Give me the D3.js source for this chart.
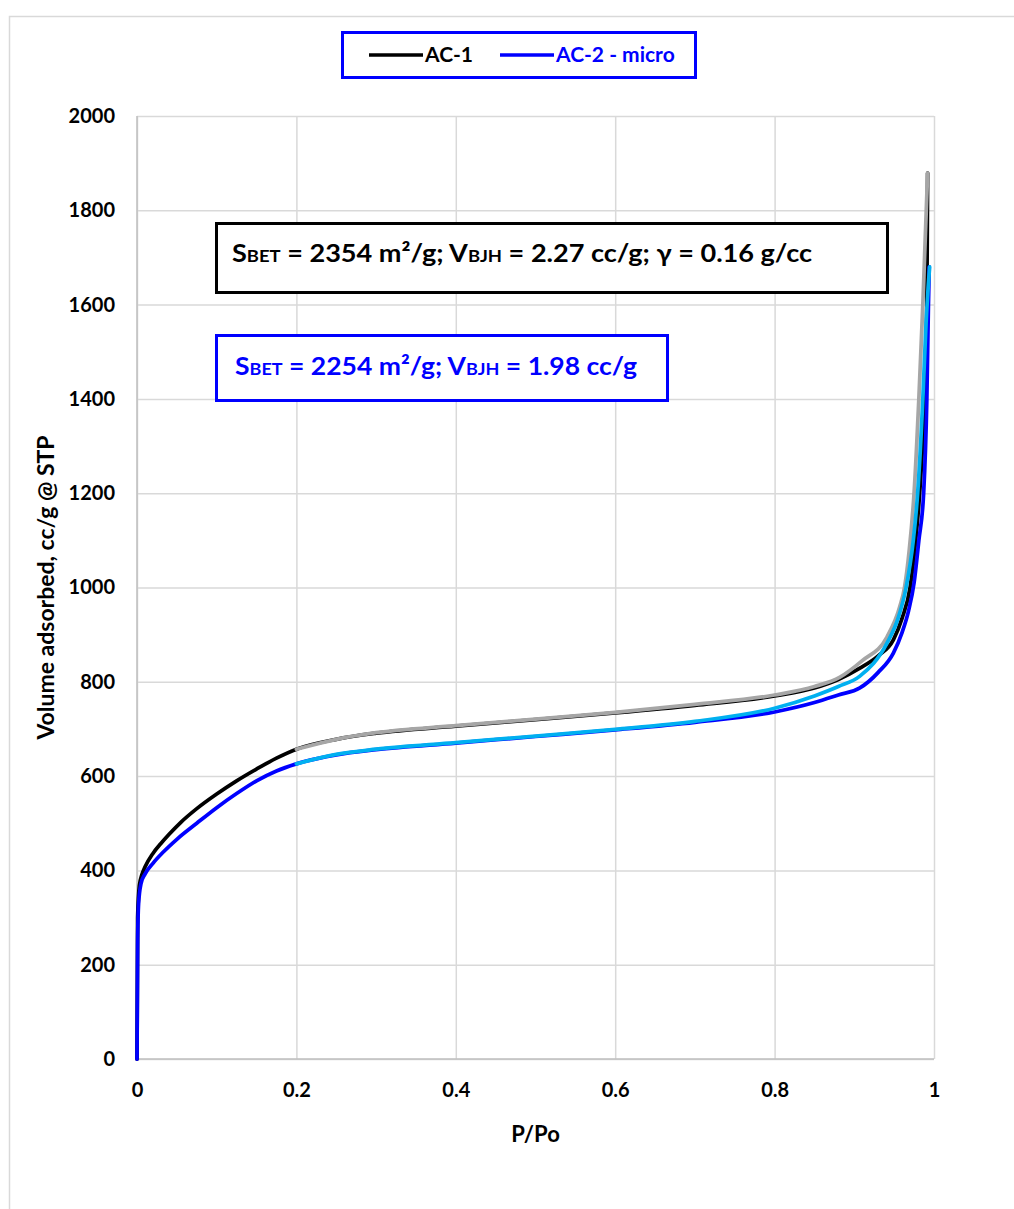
<!DOCTYPE html>
<html lang="en">
<head>
    <meta charset="UTF-8">
    <title>Isotherms AC-1 / AC-2</title>
    <script src="https://d3js.org/d3.v7.min.js"></script>
    <style>
        body { margin: 0; background: #fff; }
        svg text { font-family: Lato, "Open Sans", sans-serif; font-weight: bold; }
    </style>
</head>
<body>
    <script>
        // AC-1 adsorption (black) and desorption (gray)
        const ac1AdsP = [0, 0.0008, 0.003, 0.006, 0.01, 0.02, 0.03, 0.04, 0.055, 0.075, 0.1, 0.125, 0.15, 0.175, 0.2, 0.25, 0.3, 0.4, 0.5, 0.6, 0.7, 0.8, 0.85, 0.88, 0.907, 0.93, 0.949, 0.96, 0.97, 0.977, 0.982, 0.988, 0.991, 0.992];
        const ac1AdsV = [0, 300, 368, 390, 407, 436, 457, 476, 502, 531, 562, 590, 615, 638, 657, 678, 691, 706, 720, 734, 750, 770, 787, 805, 829, 855, 889, 935, 1000, 1100, 1200, 1400, 1600, 1879];
        const ac1DesP = [0.2, 0.25, 0.3, 0.4, 0.5, 0.6, 0.7, 0.8, 0.85, 0.882, 0.91, 0.941, 0.957, 0.963, 0.969, 0.975, 0.981, 0.986, 0.992];
        const ac1DesV = [657, 678, 692, 707, 721, 735, 752, 772, 790, 810, 845, 895, 959, 1000, 1080, 1200, 1400, 1600, 1879];

        // AC-2 adsorption (blue) and desorption (light blue)
        const ac2AdsP = [0, 0.0008, 0.002, 0.005, 0.01, 0.02, 0.033, 0.05, 0.075, 0.1, 0.125, 0.15, 0.175, 0.2, 0.25, 0.3, 0.4, 0.5, 0.6, 0.7, 0.8, 0.85, 0.88, 0.907, 0.93, 0.949, 0.96, 0.968, 0.975, 0.981, 0.987, 0.991, 0.993, 0.994];
        const ac2AdsV = [0, 250, 330, 372, 392, 415, 439, 466, 500, 533, 563, 590, 611, 626, 645, 656, 670, 684, 698, 714, 736, 756, 772, 787, 820, 861, 905, 950, 1010, 1100, 1200, 1400, 1600, 1680];
        const ac2DesP = [0.2, 0.25, 0.3, 0.4, 0.5, 0.6, 0.7, 0.8, 0.85, 0.88, 0.907, 0.941, 0.955, 0.965, 0.974, 0.9795, 0.986, 0.99, 0.9945];
        const ac2DesV = [626, 646, 657, 671, 685, 699, 716, 744, 770, 790, 812, 882, 935, 1000, 1100, 1200, 1400, 1560, 1680];

        const xTicks = [0, 0.2, 0.4, 0.6, 0.8, 1];
        const yTicks = [0, 200, 400, 600, 800, 1000, 1200, 1400, 1600, 1800, 2000];

        const width = 1014, height = 1209;
        const mLeft = 137, mRight = 934, mTop = 116, mBottom = 1059;

        const svg = d3.select("body").append("svg")
            .attr("width", width)
            .attr("height", height);

        // chart area frame
        svg.append("rect")
            .attr("x", 9.5).attr("y", 16.5)
            .attr("width", width + 20).attr("height", height + 20)
            .attr("fill", "#fff")
            .attr("stroke", "#d9d9d9")
            .attr("stroke-width", 1.5);

        const x = d3.scaleLinear().domain([0, 1]).range([mLeft, mRight]);
        const y = d3.scaleLinear().domain([0, 2000]).range([mBottom, mTop]);

        // gridlines
        svg.append("g")
            .attr("transform", `translate(0,${mBottom})`)
            .call(d3.axisBottom(x).tickValues(xTicks).tickSize(-(mBottom - mTop)).tickFormat(""))
            .call(g => g.select(".domain").remove())
            .call(g => g.selectAll("line").attr("stroke", "#d9d9d9").attr("stroke-width", 1.5));
        svg.append("g")
            .attr("transform", `translate(${mLeft},0)`)
            .call(d3.axisLeft(y).tickValues(yTicks).tickSize(-(mRight - mLeft)).tickFormat(""))
            .call(g => g.select(".domain").remove())
            .call(g => g.selectAll("line").attr("stroke", "#d9d9d9").attr("stroke-width", 1.5));

        // axis lines
        svg.append("line")
            .attr("x1", mLeft).attr("x2", mLeft).attr("y1", mTop).attr("y2", mBottom)
            .attr("stroke", "#bfbfbf").attr("stroke-width", 1.5);
        svg.append("line")
            .attr("x1", mLeft).attr("x2", mRight).attr("y1", mBottom).attr("y2", mBottom)
            .attr("stroke", "#bfbfbf").attr("stroke-width", 1.5);

        // tick labels
        svg.append("g")
            .attr("transform", `translate(0,${mBottom})`)
            .call(d3.axisBottom(x).tickValues(xTicks).tickSize(0).tickPadding(24).tickFormat(d3.format("")))
            .call(g => g.select(".domain").remove())
            .call(g => g.selectAll("text").attr("font-size", 20).attr("fill", "#000")
                .style("font-family", "Lato, sans-serif").style("font-weight", "bold"));
        svg.append("g")
            .attr("transform", `translate(${mLeft},0)`)
            .call(d3.axisLeft(y).tickValues(yTicks).tickSize(0).tickPadding(22).tickFormat(d3.format("")))
            .call(g => g.select(".domain").remove())
            .call(g => g.selectAll("text").attr("font-size", 20).attr("fill", "#000")
                .style("font-family", "Lato, sans-serif").style("font-weight", "bold"));

        // axis titles
        svg.append("text")
            .attr("x", (mLeft + mRight) / 2).attr("y", 1142)
            .attr("text-anchor", "middle")
            .attr("font-size", 22)
            .text("P/Po");
        svg.append("text")
            .attr("transform", `translate(54,${(mTop + mBottom) / 2}) rotate(-90)`)
            .attr("text-anchor", "middle")
            .attr("font-size", 23)
            .text("Volume adsorbed, cc/g @ STP");

        // isotherm curves
        const line = d3.line()
            .x(d => x(d[0]))
            .y(d => y(d[1]))
            .curve(d3.curveMonotoneX);

        const series = [
            { p: ac1AdsP, v: ac1AdsV, color: "#000000" },
            { p: ac1DesP, v: ac1DesV, color: "#a6a6a6" },
            { p: ac2AdsP, v: ac2AdsV, color: "#0000ff" },
            { p: ac2DesP, v: ac2DesV, color: "#00b0f0" }
        ];

        svg.append("g")
            .selectAll("path")
            .data(series)
            .join("path")
            .attr("fill", "none")
            .attr("stroke", d => d.color)
            .attr("stroke-width", 3.75)
            .attr("stroke-linejoin", "round")
            .attr("stroke-linecap", "round")
            .attr("d", d => line(d.p.map((p, i) => [p, d.v[i]])));

        // legend
        svg.append("rect")
            .attr("x", 342.5).attr("y", 32.5)
            .attr("width", 353).attr("height", 45)
            .attr("fill", "#fff")
            .attr("stroke", "#0000ff")
            .attr("stroke-width", 3);
        const legend = [
            { name: "AC-1", color: "#000000", x0: 369 },
            { name: "AC-2 - micro", color: "#0000ff", x0: 500 }
        ];
        legend.forEach(d => {
            svg.append("line")
                .attr("x1", d.x0).attr("x2", d.x0 + 54)
                .attr("y1", 55).attr("y2", 55)
                .attr("stroke", d.color).attr("stroke-width", 3.5);
            svg.append("text")
                .attr("x", d.x0 + 56).attr("y", 62)
                .attr("font-size", 21)
                .attr("fill", d.color)
                .text(d.name);
        });

        // annotation boxes
        function note(bx, by, bw, bh, color, tx, ty, tlen, parts) {
            svg.append("rect")
                .attr("x", bx).attr("y", by)
                .attr("width", bw).attr("height", bh)
                .attr("fill", "#fff")
                .attr("stroke", color)
                .attr("stroke-width", 3);
            const t = svg.append("text")
                .attr("x", tx).attr("y", ty)
                .attr("font-size", 25)
                .attr("fill", color)
                .attr("textLength", tlen)
                .attr("lengthAdjust", "spacingAndGlyphs");
            parts.forEach(p => {
                t.append("tspan").attr("font-size", p[1]).text(p[0]);
            });
        }

        note(216.5, 223.5, 671, 69, "#000", 232, 262, 580, [
            ["S", 25], ["BET", 17], [" = 2354 m²/g; V", 25], ["BJH", 17],
            [" = 2.27 cc/g; γ = 0.16 g/cc", 25]
        ]);
        note(216.5, 335.5, 451, 65, "#0000ff", 235, 375, 402, [
            ["S", 25], ["BET", 17], [" = 2254 m²/g; V", 25], ["BJH", 17],
            [" = 1.98 cc/g", 25]
        ]);
    </script>
</body>
</html>
